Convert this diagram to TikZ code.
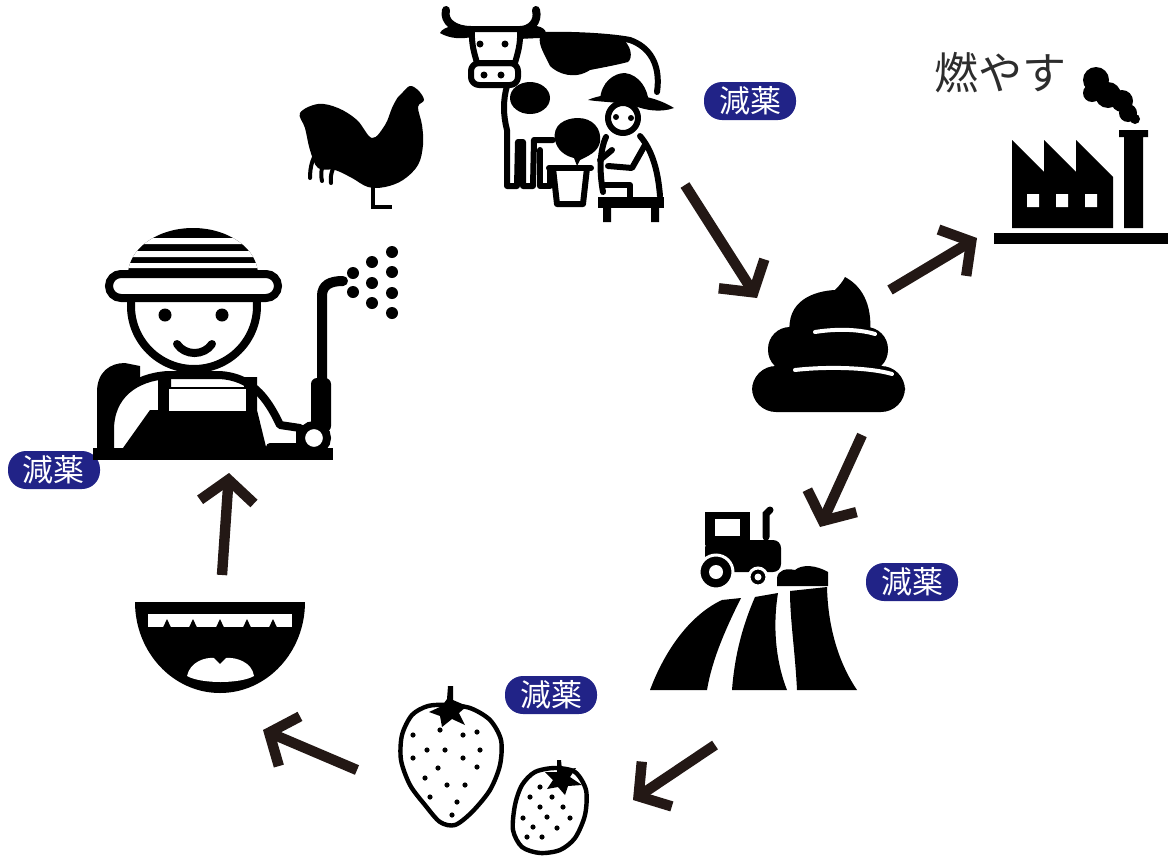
\documentclass[tikz,border=0pt]{standalone}
\usepackage{fontspec}
\newfontfamily\jpfont{Noto Sans CJK JP}
\usetikzlibrary{arrows.meta}
\definecolor{tagblue}{RGB}{33,35,135}
\definecolor{arrowink}{RGB}{35,24,21}
\definecolor{burntext}{RGB}{45,45,45}
\tikzset{
  tag/.style={fill=tagblue,text=white,rounded corners=9pt,minimum width=46pt,minimum height=19pt,inner sep=0pt,font=\jpfont\fontsize{15.5}{15.5}\selectfont},
  flow/.style={draw=arrowink,line width=5.2pt,-{Straight Barb[length=11pt,width=27pt]}},
  pict/.style={line width=3pt,line cap=round,line join=round},
}
\begin{document}
\begin{tikzpicture}[x=0.5pt,y=-0.5pt]
\useasboundingbox (0,0) rectangle (1168,857);

% labels
\node[tag] (tagcow) at (750,101) {減薬};
\node[tag] (tagfarmer) at (54,470) {減薬};
\node[tag] (tagfield) at (912,582) {減薬};
\node[tag] (tagberry) at (551,695) {減薬};
\node[text=burntext,font=\jpfont\fontsize{22}{22}\selectfont,inner sep=0pt] (burn) at (1000,73) {燃やす};

% factory
\fill (1012,228) -- (1012,140) -- (1044,172) -- (1044,140) -- (1076,172) -- (1076,140) -- (1113,177) -- (1113,228) -- cycle;
\fill[white] (1027,194) rectangle (1039,207) (1056,194) rectangle (1068,207) (1085,194) rectangle (1097,207);
\fill (1119,130) -- (1148,130) -- (1148,137) -- (1143,137) -- (1143,228) -- (1124,228) -- (1124,137) -- (1119,137) -- cycle;
\fill (994,233) rectangle (1168,244);
\fill (1096,80) circle[radius=13] (1092,93) circle[radius=9] (1108,95) circle[radius=13]
      (1122,101) circle[radius=11] (1128,113) circle[radius=9] (1135,119) circle[radius=5];

% cow
\begin{scope}[pict]
\draw[line width=4pt] (446,10) .. controls (443,22) and (455,30) .. (471,30);
\draw[line width=4pt] (536,10) .. controls (539,22) and (530,30) .. (520,30);
\fill (472,29) .. controls (460,23) and (443,26) .. (440,33) .. controls (450,39) and (462,39) .. (472,37) -- cycle;
\fill (520,29) .. controls (532,23) and (545,26) .. (546,33) .. controls (538,39) and (528,39) .. (520,37) -- cycle;
\draw (472,29) -- (520,29) .. controls (521,45) and (517,55) .. (515,63) -- (477,63) .. controls (475,55) and (471,45) .. cycle;
\draw[rounded corners=4pt] (471,63) rectangle (518,85);
\fill (480,44) circle[radius=3.5] (505,44) circle[radius=3.5] (484,75) circle[radius=3.5] (501,75) circle[radius=3.5];
\draw (520,36) .. controls (560,33) and (610,36) .. (630,40) .. controls (650,47) and (661,65) .. (657,92);
\draw (507,86) .. controls (503,100) and (503,115) .. (507,130) -- (507,186) -- (517,186) -- (518,142) -- (523,142) -- (523,186) -- (533,186) -- (534,140) -- (553,140);
\draw (540,150) -- (540,186) -- (550,186) -- (550,170);
\fill (540,37) -- (620,37) .. controls (632,45) and (633,58) .. (628,62) .. controls (612,66) and (600,68) .. (590,70) .. controls (575,80) and (558,74) .. (550,66) .. controls (545,55) and (538,45) .. cycle;
\fill (530,98) ellipse[x radius=20,y radius=16];
\fill (555,140) .. controls (552,125) and (565,118) .. (578,118) .. controls (592,118) and (602,128) .. (600,142) .. controls (598,152) and (588,156) .. (580,160) -- (577,166) -- (574,158) .. controls (565,156) and (557,150) .. cycle;
\draw (549,168) -- (591,168);
\draw (553,168) -- (557,204) -- (583,204) -- (587,168);
\fill (588,100) .. controls (605,92) and (645,90) .. (674,108) .. controls (660,113) and (645,110) .. (635,106) .. controls (620,102) and (600,102) .. cycle;
\fill (600,100) .. controls (601,82) and (614,73) .. (625,73) .. controls (639,75) and (648,88) .. (649,104) -- cycle;
\filldraw[fill=white] (623,118) circle[radius=15];
\fill (616,117) circle[radius=3] (631,118) circle[radius=3];
\draw (606,137) .. controls (600,150) and (599,170) .. (603,192);
\draw (640,136) .. controls (652,150) and (658,170) .. (660,196);
\draw (612,150) -- (600,160);
\draw (645,145) -- (632,168) -- (608,166);
\draw (605,185) -- (630,185) -- (630,198);
\fill (598,197) rectangle (664,208);
\fill (603,208) rectangle (611,222) (651,208) rectangle (659,222);
\end{scope}

% rooster
\fill plot[smooth cycle,tension=0.6] coordinates {(403,92) (410,86) (418,90) (424,100) (418,107) (422,125) (423,145) (418,165) (403,180) (385,187) (368,187) (352,178) (335,170) (318,168) (310,150) (305,128) (300,113) (318,104) (338,108) (357,120) (372,138) (385,125) (392,108) (398,97)};
\draw[line width=2pt,line cap=round] (322,147) .. controls (312,155) and (310,168) .. (310,178)
  (330,152) .. controls (322,162) and (320,172) .. (322,181) (338,160) .. controls (332,168) and (330,176) .. (331,183);
\draw[line width=2pt] (373,185) -- (373,207) -- (392,207);

% farmer
\fill (97,455) -- (97,392) .. controls (97,372) and (110,363) .. (125,363) -- (140,366) -- (140,455) -- cycle;
\filldraw[fill=white,line width=4pt,line join=round] (110,455) -- (110,430) .. controls (110,395) and (135,377) .. (168,375) -- (220,375) .. controls (250,377) and (266,395) .. (280,425) -- (300,428) -- (300,447) -- (270,447) -- (270,455);
\fill (158,377) -- (171,377) -- (171,387) -- (244,387) -- (244,377) -- (257,377) -- (257,410) -- (268,455) -- (118,455) -- (150,410) -- (158,410) -- cycle;
\fill[white] (169,389) rectangle (246,411);
\filldraw[fill=white,line width=4pt] (194,306) circle[radius=63];
\begin{scope}
\clip (193,275) ellipse[x radius=65,y radius=47];
\fill (120,226) rectangle (270,276);
\fill[white] (120,238) rectangle (270,244) (120,251) rectangle (270,257) (120,263) rectangle (270,268);
\end{scope}
\filldraw[fill=white,line width=4pt,rounded corners=6pt] (109,274) rectangle (278,298);
\fill (165,315) circle[radius=6.5] (222,315) circle[radius=6.5];
\draw[line width=4pt,line cap=round] (177,344) .. controls (185,356) and (204,356) .. (212,344);
\draw[line width=5pt,line cap=round] (322,380) -- (322,296) .. controls (322,285) and (330,281) .. (343,281);
\fill[rounded corners=3pt] (311,378) rectangle (331,432);
\filldraw[fill=white,line width=4pt] (314,438) circle[radius=13];
\fill (93,448) rectangle (333,460);
\foreach \sx/\sy in {353/273,372/262,392/252,353/292,372/283,392/272,372/303,392/293,392/313}
  \fill (\sx,\sy) circle[radius=6];

% mouth
\fill (305,602) arc[start angle=0,end angle=180,x radius=85,y radius=91] -- cycle;
\fill[white] (148,614) rectangle (292,627);
\foreach \tx in {167,193,220,247,273}
  \fill (\tx-4,627.5) -- (\tx,619) -- (\tx+4,627.5) -- cycle;
\fill[white] (187,676) .. controls (190,662) and (205,657) .. (214,658) -- (220,664) -- (226,658) .. controls (236,657) and (252,662) .. (254,676) .. controls (240,684) and (201,684) .. cycle;

% strawberries
\draw[line width=2.2pt] plot[smooth cycle] coordinates {(447,705) (470,708) (490,720) (501,740) (500,765) (490,790) (472,812) (455,825) (440,822) (425,805) (410,785) (401,760) (402,735) (412,715) (428,706)};
\fill (448,686) -- (453,686) -- (453,700) -- (467,706) -- (459,713) -- (465,725) -- (452,719) -- (442,727) -- (440,716) -- (429,712) -- (442,706) -- (447,699) -- cycle;
\foreach \bx/\by in {413/735,440/730,463/735,477/732,427/750,445/750,480/750,413/758,463/758,438/768,477/767,425/778,447/785,465/785,430/797,457/802,452/815}
  \fill (\bx,\by) circle[radius=2.6];
\draw[line width=2.2pt] plot[smooth cycle] coordinates {(535,772) (555,768) (575,772) (586,790) (585,815) (575,838) (560,850) (540,853) (522,847) (513,830) (515,805) (522,785)};
\fill (557,760) -- (561,760) -- (562,770) -- (576,768) -- (570,777) -- (582,785) -- (568,786) -- (565,795) -- (558,787) -- (547,789) -- (553,780) -- (545,772) -- (557,772) -- cycle;
\foreach \bx/\by in {540/787,530/797,552/797,540/807,563/807,523/818,547/817,570/818,533/827,557/828,542/837,527/837}
  \fill (\bx,\by) circle[radius=2.6];

% tractor and field
\fill (705,512) rectangle (750,545);
\fill[white] (715,519) rectangle (740,536);
\fill[rounded corners=4pt] (705,540) rectangle (781,572);
\draw[line width=3.5pt,line cap=round] (766,537) -- (766,514) -- (770,510);
\filldraw[draw=white,line width=1.5pt] (716,572) circle[radius=17] (758,577) circle[radius=9];
\fill[white] (716,572) circle[radius=7] (758,577) circle[radius=3.5];
\fill (777,586) -- (777,578) .. controls (778,570) and (786,568) .. (795,570) .. controls (802,564) and (816,565) .. (828,572) -- (828,586) -- cycle;
\fill (722,600) -- (741,598) .. controls (725,630) and (712,660) .. (707,690) -- (650,690) .. controls (665,650) and (690,615) .. cycle;
\fill (755,597) -- (778,593) .. controls (772,630) and (777,665) .. (787,690) -- (732,690) .. controls (735,650) and (745,620) .. cycle;
\fill (790,591) -- (827,587) .. controls (828,630) and (840,665) .. (857,690) -- (797,690) .. controls (795,650) and (790,620) .. cycle;

% poop
\fill[rounded corners=12pt] (752,366) rectangle (905,412);
\fill[rounded corners=11pt] (768,327) rectangle (888,372);
\fill (790,335) .. controls (785,300) and (815,291) .. (835,290) .. controls (840,285) and (843,281) .. (845,277) .. controls (860,285) and (873,302) .. (870,335) -- cycle;
\draw[white,line width=2pt,line cap=round] (815,332) .. controls (840,328) and (862,330) .. (875,334)
  (795,370) .. controls (830,366) and (872,368) .. (892,374);

% arrows
\coordinate (cowout) at (685,185);
\coordinate (poopin) at (757,298);
\coordinate (poopup) at (890,290);
\coordinate (factoryin) at (977,238);
\coordinate (poopdown) at (862,435);
\coordinate (fieldin) at (820,527);
\coordinate (fieldout) at (715,745);
\coordinate (berryin) at (633,800);
\coordinate (berryout) at (357,770);
\coordinate (mouthin) at (263,730);
\coordinate (mouthout) at (222,575);
\coordinate (farmerin) at (229,473);
\draw[flow] (cowout) -- (poopin);
\draw[flow] (poopup) -- (factoryin);
\draw[flow] (poopdown) -- (fieldin);
\draw[flow] (fieldout) -- (berryin);
\draw[flow] (berryout) -- (mouthin);
\draw[flow] (mouthout) -- (farmerin);
\end{tikzpicture}
\end{document}
